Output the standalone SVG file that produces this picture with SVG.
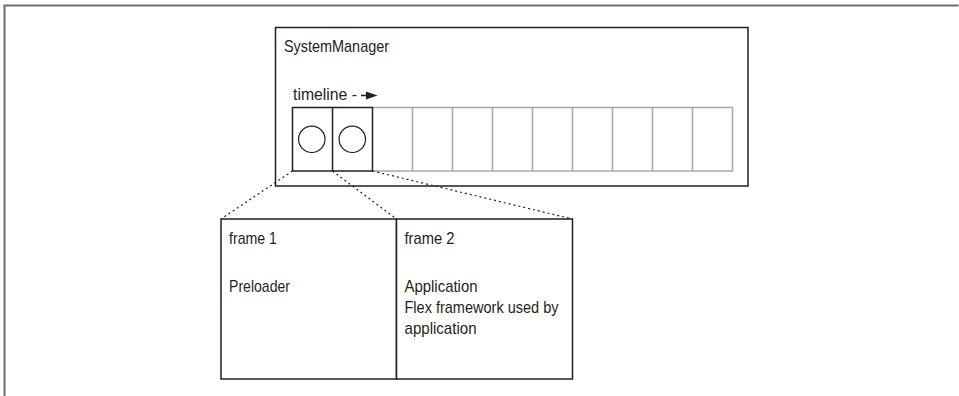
<svg xmlns="http://www.w3.org/2000/svg" width="959" height="396" viewBox="0 0 959 396">
<style>
text{font-family:"Liberation Sans Narrow","Liberation Sans",Arial,sans-serif;font-size:17px;fill:#231f20}
.box{fill:#fff;stroke:#231f20;stroke-width:1.5}
.cell{fill:none;stroke:#a7a9ac;stroke-width:1.5}
.cellk{fill:none;stroke:#231f20;stroke-width:1.5}
.dot{fill:none;stroke:#231f20;stroke-width:1.2;stroke-dasharray:2 3}
</style>
<rect width="959" height="396" fill="#fff"/>
<path d="M958.5,5.5H4.5V396" fill="none" stroke="#6d6e71" stroke-width="2"/>
<g id="systemmanager">
<rect class="box" x="275.5" y="27.5" width="472.5" height="158.5"/>
<text x="284" y="52" textLength="105" lengthAdjust="spacingAndGlyphs">SystemManager</text>
<text x="293" y="99.5" textLength="64" lengthAdjust="spacingAndGlyphs">timeline -</text>
<line x1="361" y1="95.5" x2="368" y2="95.5" stroke="#231f20" stroke-width="1.5"/>
<polygon points="366,91.5 377.5,95.5 366,99.5" fill="#231f20"/>
</g>
<g id="timeline">
<path class="cell" d="M372.5,107.5H732.5V171H372.5M412.5,107.5V171M452.5,107.5V171M492.5,107.5V171M532.5,107.5V171M572.5,107.5V171M612.5,107.5V171M652.5,107.5V171M692.5,107.5V171"/>
<rect class="cellk" x="292.5" y="107.5" width="80" height="63.5"/>
<line class="cellk" x1="332.5" y1="107.5" x2="332.5" y2="171"/>
<circle cx="311.8" cy="139.3" r="13.2" fill="none" stroke="#231f20" stroke-width="1.2"/>
<circle cx="352.3" cy="139.3" r="13.2" fill="none" stroke="#231f20" stroke-width="1.2"/>
</g>
<g id="connectors">
<line class="dot" x1="292.5" y1="171" x2="221" y2="219"/>
<line class="dot" x1="332.5" y1="171" x2="396.5" y2="219"/>
<line class="dot" x1="372.5" y1="171" x2="572.5" y2="219"/>
</g>
<g id="frame1">
<rect class="box" x="221" y="219" width="175.5" height="160"/>
<text x="229" y="243.5" textLength="48" lengthAdjust="spacingAndGlyphs">frame 1</text>
<text x="229" y="291.5" textLength="61" lengthAdjust="spacingAndGlyphs">Preloader</text>
</g>
<g id="frame2">
<rect class="box" x="396.5" y="219" width="176" height="160"/>
<text x="404.5" y="243.5" textLength="50" lengthAdjust="spacingAndGlyphs">frame 2</text>
<text x="404.5" y="291.5" textLength="73" lengthAdjust="spacingAndGlyphs">Application</text>
<text x="404.5" y="313" textLength="154" lengthAdjust="spacingAndGlyphs">Flex framework used by</text>
<text x="404.5" y="334" textLength="72" lengthAdjust="spacingAndGlyphs">application</text>
</g>
</svg>
